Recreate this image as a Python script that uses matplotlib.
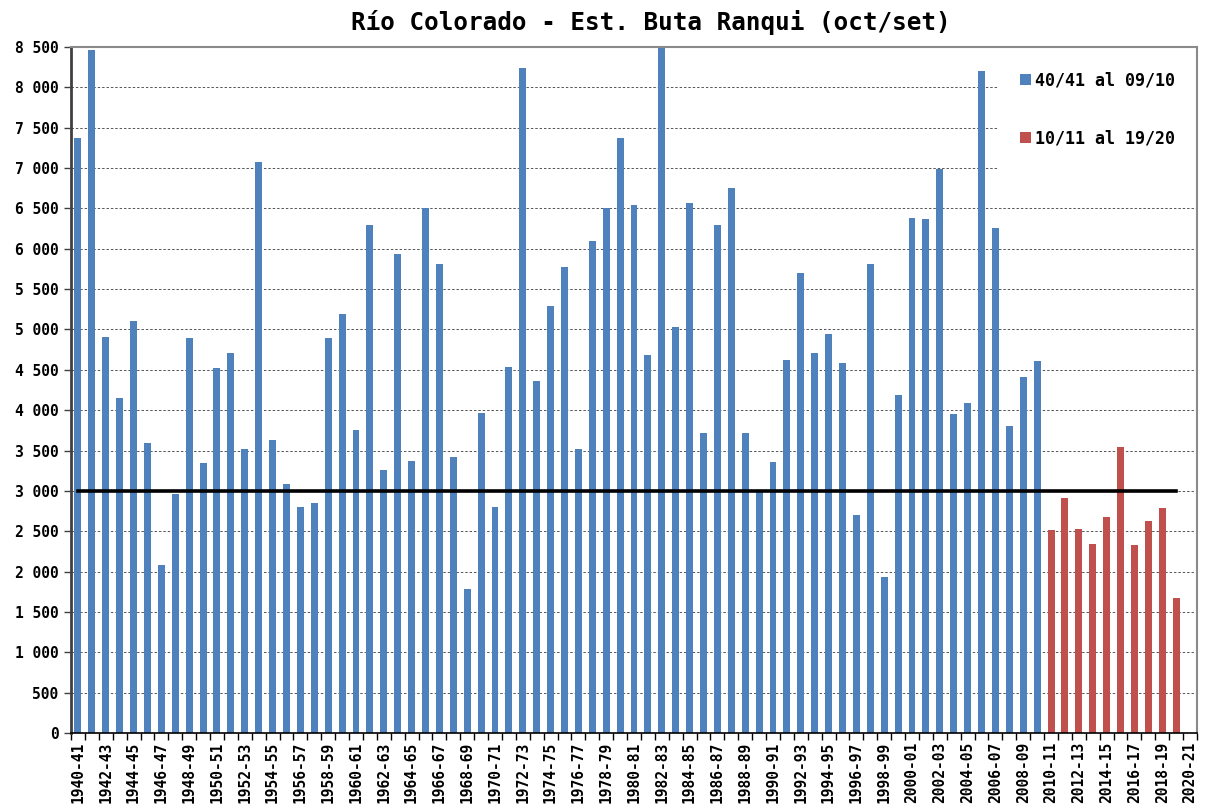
import numpy as np
import matplotlib
matplotlib.use("Agg")
import matplotlib.pyplot as plt
from matplotlib.ticker import FixedLocator, FuncFormatter

# hydrological years 1940-41 .. 2020-21 (last one has no data yet)
years = ["%d-%02d" % (y, (y + 1) % 100) for y in range(1940, 2021)]

# 40/41 al 09/10
serie1 = [7370, 8460, 4910, 4150, 5100, 3590, 2080, 2960, 4900, 3350,
          4520, 4710, 3515, 7070, 3630, 3080, 2800, 2855, 4900, 5195,
          3755, 6295, 3255, 5930, 3365, 6510, 5810, 3425, 1790, 3960,
          2800, 4530, 8235, 4365, 5285, 5780, 3525, 6095, 6510, 7375,
          6540, 4685, 8550, 5025, 6565, 3720, 6295, 6750, 3715, 2990,
          3360, 4620, 5700, 4705, 4940, 4580, 2695, 5810, 1930, 4185,
          6385, 6375, 6985, 3955, 4085, 8200, 6260, 3805, 4410, 4615]

# 10/11 al 19/20
serie2 = [2510, 2915, 2525, 2340, 2675, 3540, 2335, 2630, 2785, 1675]

umbral = 3000

label1 = "40/41 al 09/10"
label2 = "10/11 al 19/20"
titulo = "Río Colorado - Est. Buta Ranqui (oct/set)"

azul = "#4F81BD"
rojo = "#C0504D"

plt.rcParams['font.family'] = ['DejaVu Sans Mono']

fig = plt.figure(figsize=(12.05, 8.08), dpi=100)
ax = fig.add_axes([71 / 1205, 1 - 733 / 808, 1126 / 1205, 686 / 808])

x1 = np.arange(len(serie1))
x2 = np.arange(len(serie1), len(serie1) + len(serie2))
ax.bar(x1, serie1, width=0.5, color=azul, label=label1, zorder=2)
ax.bar(x2, serie2, width=0.5, color=rojo, label=label2, zorder=2)

xl = np.arange(len(serie1) + len(serie2))
ax.plot(xl, [umbral] * len(xl), color="black", linewidth=2.6, zorder=3)

ax.set_xlim(-0.5, len(years) - 0.5)
ax.set_ylim(0, 8500)

ax.yaxis.set_major_locator(FixedLocator(np.arange(0, 8501, 500)))
ax.yaxis.set_major_formatter(FuncFormatter(lambda v, p: "{:,.0f}".format(v).replace(",", " ")))
ax.grid(axis="y", linestyle=(0, (2.5, 2)), color="#555555", linewidth=0.7, zorder=0)

ax.set_xticks(np.arange(0, len(years), 2))
ax.set_xticklabels(years[::2], rotation=90, fontsize=10.5, fontweight="bold")
ax.set_xticks(np.arange(-0.5, len(years), 1), minor=True)
ax.tick_params(axis="x", which="major", length=0, pad=6)
ax.tick_params(axis="x", which="minor", length=5, width=1, color="black", direction="out")
ax.tick_params(axis="y", length=5, width=1, color="#404040", labelsize=10.5, pad=4)
for t in ax.get_yticklabels():
    t.set_fontweight("bold")

ax.spines["left"].set_color("#404040")
ax.spines["left"].set_linewidth(2)
ax.spines["bottom"].set_color("black")
ax.spines["bottom"].set_linewidth(1.2)
ax.spines["top"].set_color("#8a8a8a")
ax.spines["top"].set_linewidth(1.5)
ax.spines["right"].set_color("#8a8a8a")
ax.spines["right"].set_linewidth(1.5)
for s in ax.spines.values():
    s.set_zorder(6)

leg = ax.legend(loc="upper right", bbox_to_anchor=(1.0, 0.996), frameon=True,
                fancybox=False, edgecolor="white", framealpha=1,
                prop={"weight": "bold", "size": 12}, labelspacing=2.4,
                handlelength=0.65, handleheight=0.65, handletextpad=0.25,
                borderpad=1.3, borderaxespad=0.0)
leg.set_zorder(5)

fig.text(0.54, 0.972, titulo, ha="center", va="center", fontsize=17.5, fontweight="bold")

fig.savefig("out.png", dpi=100)
